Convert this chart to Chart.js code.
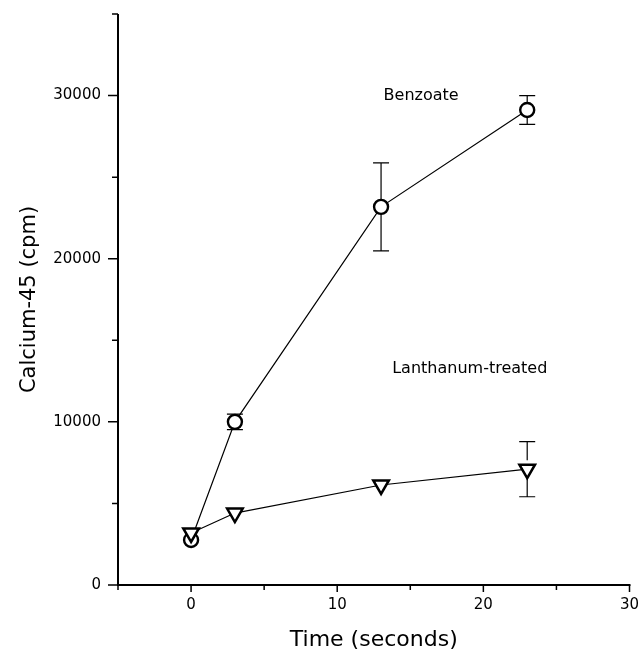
<!DOCTYPE html>
<html>
<head>
<meta charset="utf-8">
<script src="https://cdn.jsdelivr.net/npm/chart.js@4/dist/chart.umd.min.js"></script>
<style>
html,body{margin:0;padding:0;background:#fff;}
#wrap{width:641px;height:654px;}
</style>
</head>
<body>
<div id="wrap"><canvas id="c" width="641" height="654"></canvas></div>
<script>
// ---- data ----
const times = [0, 3, 13, 23];
const benzoate = [2760, 10000, 23180, 29120];
const benzoateErr = [0, 480, 2700, 880];
const lanthanum = [3190, 4410, 6130, 7100];
const lanthanumErr = [0, 0, 0, 1690];
const xTickLabels = [0, 10, 20, 30];
const yTickLabels = [0, 10000, 20000, 30000];
const seriesLabels = ['Benzoate', 'Lanthanum-treated'];
const xTitle = 'Time (seconds)';
const yTitle = 'Calcium-45 (cpm)';

const FONT = '"DejaVu Sans", "Liberation Sans", Arial, sans-serif';

function pts(xs, ys, es) {
  return xs.map((x, i) => ({x: x, y: ys[i], err: es[i]}));
}

const errPlugin = {
  id: 'errbars',
  afterDatasetsDraw(chart) {
    const ctx = chart.ctx;
    const xs = chart.scales.x, ys = chart.scales.y;
    ctx.save();
    ctx.strokeStyle = '#000';
    ctx.lineWidth = 1.2;
    chart.data.datasets.forEach(ds => {
      const gap = ds.pointRadius || 7;
      ds.data.forEach(p => {
        if (!p.err) return;
        const px = xs.getPixelForValue(p.x);
        const top = ys.getPixelForValue(p.y + p.err);
        const bot = ys.getPixelForValue(p.y - p.err);
        const py = ys.getPixelForValue(p.y);
        ctx.beginPath();
        if (top < py - gap) { ctx.moveTo(px, top); ctx.lineTo(px, py - gap); }
        if (bot > py + gap) { ctx.moveTo(px, py + gap); ctx.lineTo(px, bot); }
        ctx.moveTo(px - 8, top); ctx.lineTo(px + 8, top);
        ctx.moveTo(px - 8, bot); ctx.lineTo(px + 8, bot);
        ctx.stroke();
      });
    });
    ctx.restore();
  }
};

const axisPlugin = {
  id: 'axisTicks',
  afterDraw(chart) {
    const ctx = chart.ctx;
    const xs = chart.scales.x, ys = chart.scales.y;
    const a = chart.chartArea;
    ctx.save();
    ctx.strokeStyle = '#000';
    ctx.lineWidth = 2;
    ctx.beginPath();
    ctx.moveTo(a.left, a.top); ctx.lineTo(a.left, a.bottom + 1);
    ctx.moveTo(a.left - 1, a.bottom); ctx.lineTo(a.right + 1, a.bottom);
    ctx.stroke();
    ctx.lineWidth = 1.5;
    ctx.beginPath();
    for (let v = xs.min; v <= xs.max; v += 5) {
      const px = xs.getPixelForValue(v);
      const len = (v % 10 === 0) ? 7 : 5;
      ctx.moveTo(px, a.bottom); ctx.lineTo(px, a.bottom + len);
    }
    for (let v = ys.min; v <= ys.max; v += 5000) {
      const py = ys.getPixelForValue(v);
      const len = (v % 10000 === 0) ? 10 : 6;
      ctx.moveTo(a.left, py); ctx.lineTo(a.left - len, py);
    }
    ctx.stroke();
    // series labels
    ctx.fillStyle = '#000';
    ctx.font = '16px ' + FONT;
    ctx.textAlign = 'center';
    ctx.textBaseline = 'middle';
    ctx.fillText(seriesLabels[0], xs.getPixelForValue(15.74), ys.getPixelForValue(30000));
    ctx.fillText(seriesLabels[1], xs.getPixelForValue(19.07), ys.getPixelForValue(13280));
    ctx.restore();
  }
};

new Chart(document.getElementById('c'), {
  type: 'line',
  data: {
    datasets: [
      {
        label: seriesLabels[0],
        data: pts(times, benzoate, benzoateErr),
        order: 2,
        borderColor: '#000',
        borderWidth: 1.2,
        pointStyle: 'circle',
        pointRadius: 7,
        pointBorderWidth: 2.4,
        pointBackgroundColor: '#fff',
        pointBorderColor: '#000',
        tension: 0
      },
      {
        label: seriesLabels[1],
        data: pts(times, lanthanum, lanthanumErr),
        order: 1,
        borderColor: '#000',
        borderWidth: 1.2,
        pointStyle: 'triangle',
        pointRotation: 180,
        pointRadius: 9,
        pointBorderWidth: 2.5,
        pointBackgroundColor: '#fff',
        pointBorderColor: '#000',
        tension: 0
      }
    ]
  },
  options: {
    responsive: false,
    animation: false,
    devicePixelRatio: 1,
    layout: {padding: {top: 14, right: 11, left: 0, bottom: 0}},
    plugins: {legend: {display: false}, tooltip: {enabled: false}},
    scales: {
      x: {
        type: 'linear',
        min: -5, max: 30,
        afterFit(s) { s.height = 69; s.paddingLeft = 0; s.paddingRight = 0; },
        border: {display: false},
        grid: {display: false},
        ticks: {
          stepSize: 5,
          autoSkip: false,
          maxRotation: 0,
          padding: 3,
          color: '#000',
          font: {family: FONT, size: 15},
          callback: v => xTickLabels.includes(v) ? String(v) : ''
        },
        title: {
          display: true,
          text: xTitle,
          color: '#000',
          font: {family: FONT, size: 22},
          padding: {top: 0, bottom: 1}
        }
      },
      y: {
        type: 'linear',
        min: 0, max: 35000,
        afterFit(s) { s.width = 118; s.paddingTop = 0; s.paddingBottom = 0; },
        border: {display: false},
        grid: {display: false},
        ticks: {
          stepSize: 5000,
          autoSkip: false,
          padding: 9,
          color: '#000',
          font: {family: FONT, size: 15},
          callback: v => yTickLabels.includes(v) ? String(v) : ''
        },
        title: {
          display: true,
          text: yTitle,
          color: '#000',
          font: {family: FONT, size: 21},
          padding: {top: 17, bottom: 0}
        }
      }
    }
  },
  plugins: [errPlugin, axisPlugin]
});
</script>
</body>
</html>
